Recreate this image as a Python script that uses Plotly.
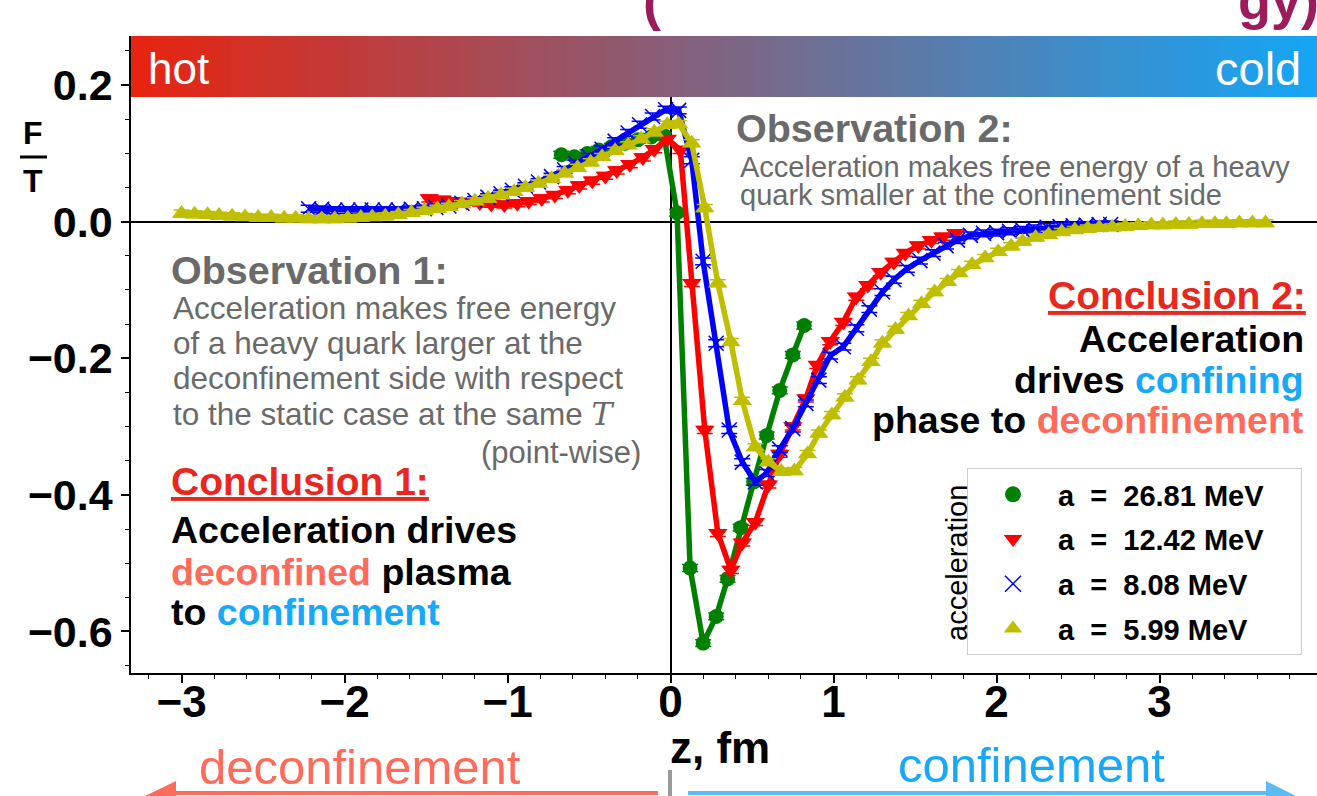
import plotly.graph_objects as go

# ---------------- data ----------------
z_green = [-0.67, -0.59, -0.51, -0.44, -0.36, -0.28, -0.20, -0.12, -0.04, 0.04,
           0.12, 0.20, 0.28, 0.35, 0.43, 0.51, 0.59, 0.67, 0.75, 0.82]
f_green = [0.098, 0.095, 0.100, 0.105, 0.110, 0.115, 0.120, 0.124, 0.126, 0.013,
           -0.507, -0.617, -0.578, -0.523, -0.448, -0.381, -0.313, -0.247, -0.195, -0.152]

z_red = [-1.48, -1.40, -1.33, -1.25, -1.17, -1.10, -1.02, -0.94, -0.87, -0.79,
         -0.71, -0.63, -0.56, -0.48, -0.40, -0.33, -0.25, -0.17, -0.10, -0.02,
         0.06, 0.13, 0.21, 0.29, 0.37, 0.44, 0.52, 0.60, 0.67, 0.75,
         0.83, 0.90, 0.98, 1.06, 1.14, 1.21, 1.29, 1.37, 1.44, 1.52,
         1.60, 1.67, 1.75]
f_red = [0.034, 0.032, 0.030, 0.029, 0.028, 0.026, 0.025, 0.027, 0.030, 0.034,
         0.039, 0.046, 0.053, 0.060, 0.067, 0.075, 0.084, 0.094, 0.106, 0.121,
         0.105, -0.090, -0.305, -0.456, -0.510, -0.470, -0.440, -0.385, -0.340, -0.300,
         -0.259, -0.210, -0.175, -0.147, -0.110, -0.093, -0.074, -0.059, -0.046, -0.035,
         -0.027, -0.022, -0.017]

z_blue = [-2.22, -2.14, -2.06, -1.98, -1.90, -1.83, -1.75, -1.67, -1.59, -1.51,
          -1.44, -1.36, -1.28, -1.20, -1.12, -1.04, -0.97, -0.89, -0.81, -0.73,
          -0.65, -0.58, -0.50, -0.42, -0.34, -0.26, -0.19, -0.11, -0.03, 0.05,
          0.13, 0.20, 0.28, 0.36, 0.44, 0.52, 0.59, 0.67, 0.75, 0.83,
          0.91, 0.98, 1.06, 1.14, 1.22, 1.30, 1.37, 1.45, 1.53, 1.61,
          1.69, 1.76, 1.84, 1.92, 2.00, 2.08, 2.16, 2.23, 2.31, 2.39,
          2.47, 2.55, 2.63, 2.70]
f_blue = [0.019, 0.018, 0.017, 0.017, 0.017, 0.017, 0.017, 0.017, 0.018, 0.019,
          0.021, 0.023, 0.027, 0.031, 0.036, 0.041, 0.046, 0.052, 0.058, 0.066,
          0.076, 0.085, 0.095, 0.106, 0.118, 0.130, 0.142, 0.154, 0.164, 0.163,
          0.090, -0.058, -0.178, -0.305, -0.352, -0.381, -0.368, -0.333, -0.303, -0.266,
          -0.232, -0.196, -0.183, -0.156, -0.128, -0.103, -0.085, -0.069, -0.057, -0.046,
          -0.035, -0.027, -0.020, -0.017, -0.016, -0.014, -0.012, -0.010, -0.008, -0.007,
          -0.006, -0.005, -0.004, -0.004]

z_yellow = [-3.00, -2.92, -2.84, -2.77, -2.69, -2.61, -2.53, -2.45, -2.37, -2.30,
            -2.22, -2.14, -2.06, -1.98, -1.90, -1.83, -1.75, -1.67, -1.59, -1.51,
            -1.43, -1.36, -1.28, -1.20, -1.12, -1.04, -0.96, -0.89, -0.81, -0.73,
            -0.65, -0.57, -0.49, -0.42, -0.34, -0.26, -0.18, -0.10, -0.02, 0.05,
            0.13, 0.21, 0.29, 0.37, 0.44, 0.52, 0.60, 0.68, 0.76, 0.84,
            0.91, 0.99, 1.07, 1.15, 1.23, 1.30, 1.38, 1.46, 1.54, 1.62,
            1.70, 1.77, 1.85, 1.93, 2.01, 2.09, 2.16, 2.24, 2.32, 2.40,
            2.48, 2.56, 2.63, 2.71, 2.79, 2.87, 2.95, 3.02, 3.10, 3.18,
            3.26, 3.34, 3.41, 3.49, 3.57, 3.65]
f_yellow = [0.012, 0.011, 0.010, 0.009, 0.008, 0.007, 0.006, 0.006, 0.005, 0.005,
            0.004, 0.004, 0.004, 0.005, 0.006, 0.007, 0.008, 0.010, 0.013, 0.016,
            0.019, 0.022, 0.026, 0.030, 0.034, 0.039, 0.044, 0.050, 0.056, 0.063,
            0.071, 0.079, 0.087, 0.095, 0.104, 0.112, 0.121, 0.131, 0.142, 0.143,
            0.115, 0.020, -0.090, -0.176, -0.262, -0.330, -0.352, -0.366, -0.365, -0.340,
            -0.310, -0.283, -0.257, -0.232, -0.205, -0.178, -0.158, -0.138, -0.120, -0.103,
            -0.088, -0.075, -0.063, -0.053, -0.044, -0.036, -0.029, -0.023, -0.019, -0.015,
            -0.012, -0.010, -0.009, -0.008, -0.007, -0.006, -0.005, -0.005, -0.004, -0.004,
            -0.003, -0.003, -0.003, -0.002, -0.002, -0.002]

err_size = 0.005  # approximate statistical error shown as small bars

labels = ["a  =  26.81 MeV", "a  =  12.42 MeV", "a  =  8.08 MeV", "a  =  5.99 MeV"]
x_ticks = [-3, -2, -1, 0, 1, 2, 3, 4]
y_ticks = [-0.6, -0.4, -0.2, 0.0, 0.2]

# ---------------- styling ----------------
FONT = "Liberation Sans"
C_RED_TXT = "#e8281e"
C_SALMON = "#ff6b5a"
C_LBLUE = "#18a8f8"
C_GRAY = "#6a6a6a"

series = [
    (z_green, f_green, "#008000", "circle", 15, labels[0]),
    (z_red, f_red, "#ff0000", "triangle-down", 17, labels[1]),
    (z_blue, f_blue, "#0000ff", "x-thin", 15, labels[2]),
    (z_yellow, f_yellow, "#bfbf00", "triangle-up", 17, labels[3]),
]

fig = go.Figure()
for z, f, col, sym, ms, lab in series:
    mk = dict(symbol=sym, size=ms, color=col)
    if sym == "x-thin":
        mk["line"] = dict(width=1.5, color=col)
    fig.add_trace(go.Scatter(
        x=z, y=f, mode="lines+markers", showlegend=False,
        line=dict(color=col, width=5.5), marker=mk,
        error_y=dict(type="constant", value=err_size, color=col, thickness=1.5, width=8),
    ))
for i, (z, f, col, sym, ms, lab) in enumerate(series):
    mk = dict(symbol=sym, size=ms + 3, color=col)
    if sym == "x-thin":
        mk["line"] = dict(width=1.5, color=col)
    fig.add_trace(go.Scatter(
        x=[None], y=[None], mode="markers", name=lab + "\u00a0\u00a0\u00a0\u00a0", marker=mk,
        legendgroup=f"g{i}", showlegend=True,
    ))

# plot area in pixels
L, R, T, B = 131, 1317, 36, 673
W, H = 1317, 796


def px(x):
    return (x - L) / (R - L)


def py(y):
    return (B - y) / (B - T)


shapes = []
# gradient bar hot -> cold
c0 = (232, 35, 15)
c1 = (20, 166, 246)
n = 120
for i in range(n):
    t = (i + 0.5) / n
    col = "rgb(%d,%d,%d)" % tuple(round(c0[k] + (c1[k] - c0[k]) * t) for k in range(3))
    shapes.append(dict(type="rect", xref="paper", yref="paper",
                       x0=i / n, x1=(i + 1) / n + 0.002, y0=py(97), y1=1.0,
                       fillcolor=col, line=dict(width=0), layer="above"))
# fraction bar for F/T
shapes.append(dict(type="line", xref="paper", yref="paper",
                   x0=px(20), x1=px(47), y0=py(157), y1=py(157),
                   line=dict(color="black", width=3)))
# bottom arrows
shapes.append(dict(type="line", xref="paper", yref="paper",
                   x0=px(172), x1=px(658), y0=py(793), y1=py(793),
                   line=dict(color=C_SALMON, width=4)))
shapes.append(dict(type="path", xref="paper", yref="paper",
                   path="M %f %f L %f %f L %f %f Z" % (px(145), py(796), px(176), py(781), px(176), py(800)),
                   fillcolor=C_SALMON, line=dict(width=0)))
shapes.append(dict(type="line", xref="paper", yref="paper",
                   x0=px(688), x1=px(1268), y0=py(793), y1=py(793),
                   line=dict(color="#5bbcf5", width=4)))
shapes.append(dict(type="path", xref="paper", yref="paper",
                   path="M %f %f L %f %f L %f %f Z" % (px(1296), py(796), px(1266), py(781), px(1266), py(800)),
                   fillcolor="#5bbcf5", line=dict(width=0)))
shapes.append(dict(type="line", xref="paper", yref="paper",
                   x0=px(670), x1=px(670), y0=py(770), y1=py(797),
                   line=dict(color="#999999", width=4)))

ann = []


def text(x, y, s, size, color="black", xanchor="left", textangle=0, family=FONT):
    ann.append(dict(x=px(x), y=py(y), xref="paper", yref="paper", text=s,
                    showarrow=False, xanchor=xanchor, yanchor="middle",
                    textangle=textangle,
                    font=dict(family=family, size=size, color=color)))


text(146, 68, "hot", 44, "white")
text(1303, 68, "cold", 47, "white", "right")
text(33, 133, "<b>F</b>", 32, xanchor="center")
text(33, 181, "<b>T</b>", 32, xanchor="center")
text(668, 747, "<b>z, fm</b>", 44)
text(360, 767, "deconfinement", 49, C_SALMON, "center")
text(1031, 765, "confinement", 49, C_LBLUE, "center")

# observation 2
text(734, 128, "<b>Observation 2:</b>", 39.5, C_GRAY)
text(738, 167, "Acceleration makes free energy of a heavy", 29, C_GRAY)
text(738, 195, "quark smaller at the confinement side", 29, C_GRAY)
# observation 1
text(169, 270, "<b>Observation 1:</b>", 39.5, C_GRAY)
text(171, 308, "Acceleration makes free energy", 31.5, C_GRAY)
text(171, 343, "of a heavy quark larger at the", 31.5, C_GRAY)
text(171, 378, "deconfinement side with respect", 31.5, C_GRAY)
text(171, 414, "to the static case at the same <span style='font-family:\"DejaVu Serif\"'><i>T</i></span>", 31.5, C_GRAY)
text(643, 452, "(point-wise)", 31, C_GRAY, "right")
# conclusion 1
text(169, 482, "<b><u>Conclusion 1:</u></b>", 39, C_RED_TXT)
text(169, 530, "<b>Acceleration drives</b>", 37.5)
text(169, 572, "<b><span style='color:%s'>deconfined</span> plasma</b>" % C_SALMON, 37.5)
text(169, 612, "<b>to <span style='color:%s'>confinement</span></b>" % C_LBLUE, 37.5)
# conclusion 2
text(1308, 295, "<b><u>Conclusion 2:</u></b>", 39, C_RED_TXT, "right")
text(1306, 339, "<b>Acceleration</b>", 37.5, "black", "right")
text(1306, 380, "<b>drives <span style='color:%s'>confining</span></b>" % C_LBLUE, 37.5, "black", "right")
text(1306, 420, "<b>phase to <span style='color:%s'>deconfinement</span></b>" % C_SALMON, 37.5, "black", "right")
# legend side label
text(957, 563, "acceleration", 29, "black", "center", textangle=-90)
# cut-off title fragments at the very top
text(652, 1, "<b>(</b>", 54, "#9b1b5b", "center")
text(1278, 0, "<b>gy)</b>", 54, "#9b1b5b", "center")

fig.update_layout(
    width=W, height=H,
    margin=dict(l=L, r=W - R, t=T, b=H - B, pad=0),
    paper_bgcolor="white", plot_bgcolor="white",
    font=dict(family=FONT, color="black"),
    shapes=shapes, annotations=ann,
    showlegend=True,
    legend=dict(x=px(967), y=py(468), xanchor="left", yanchor="top",
                bgcolor="white", bordercolor="#cccccc", borderwidth=1,
                font=dict(family=FONT, size=29, color="black", weight="bold"),
                itemwidth=80, tracegroupgap=4),
)
fig.update_xaxes(
    range=[-3.31, 3.966], tickvals=x_ticks, ticks="outside", ticklen=8, tickwidth=1.5,
    tickcolor="black", showline=True, linecolor="black", linewidth=1.5,
    showgrid=False, zeroline=True, zerolinecolor="black", zerolinewidth=1.5,
    tickfont=dict(family=FONT, size=44, weight="bold", color="black"),
    ticklabelstandoff=-19,
    minor=dict(dtick=0.2, ticks="outside", ticklen=4, tickcolor="black", tickwidth=1, showgrid=False),
)
fig.update_yaxes(
    range=[-0.6608, 0.2719], tickvals=y_ticks, tickformat=".1f", ticks="outside",
    ticklen=8, tickwidth=1.5, tickcolor="black", showline=True, linecolor="black",
    linewidth=1.5, showgrid=False, zeroline=True, zerolinecolor="black", zerolinewidth=1.5,
    tickfont=dict(family=FONT, size=43, weight="bold", color="black"),
    minor=dict(dtick=0.05, ticks="outside", ticklen=4, tickcolor="black", tickwidth=1, showgrid=False),
)

fig.write_html("out.html", config={"displayModeBar": False},
               post_script="document.body.style.margin='0';document.body.style.overflow='hidden';")
